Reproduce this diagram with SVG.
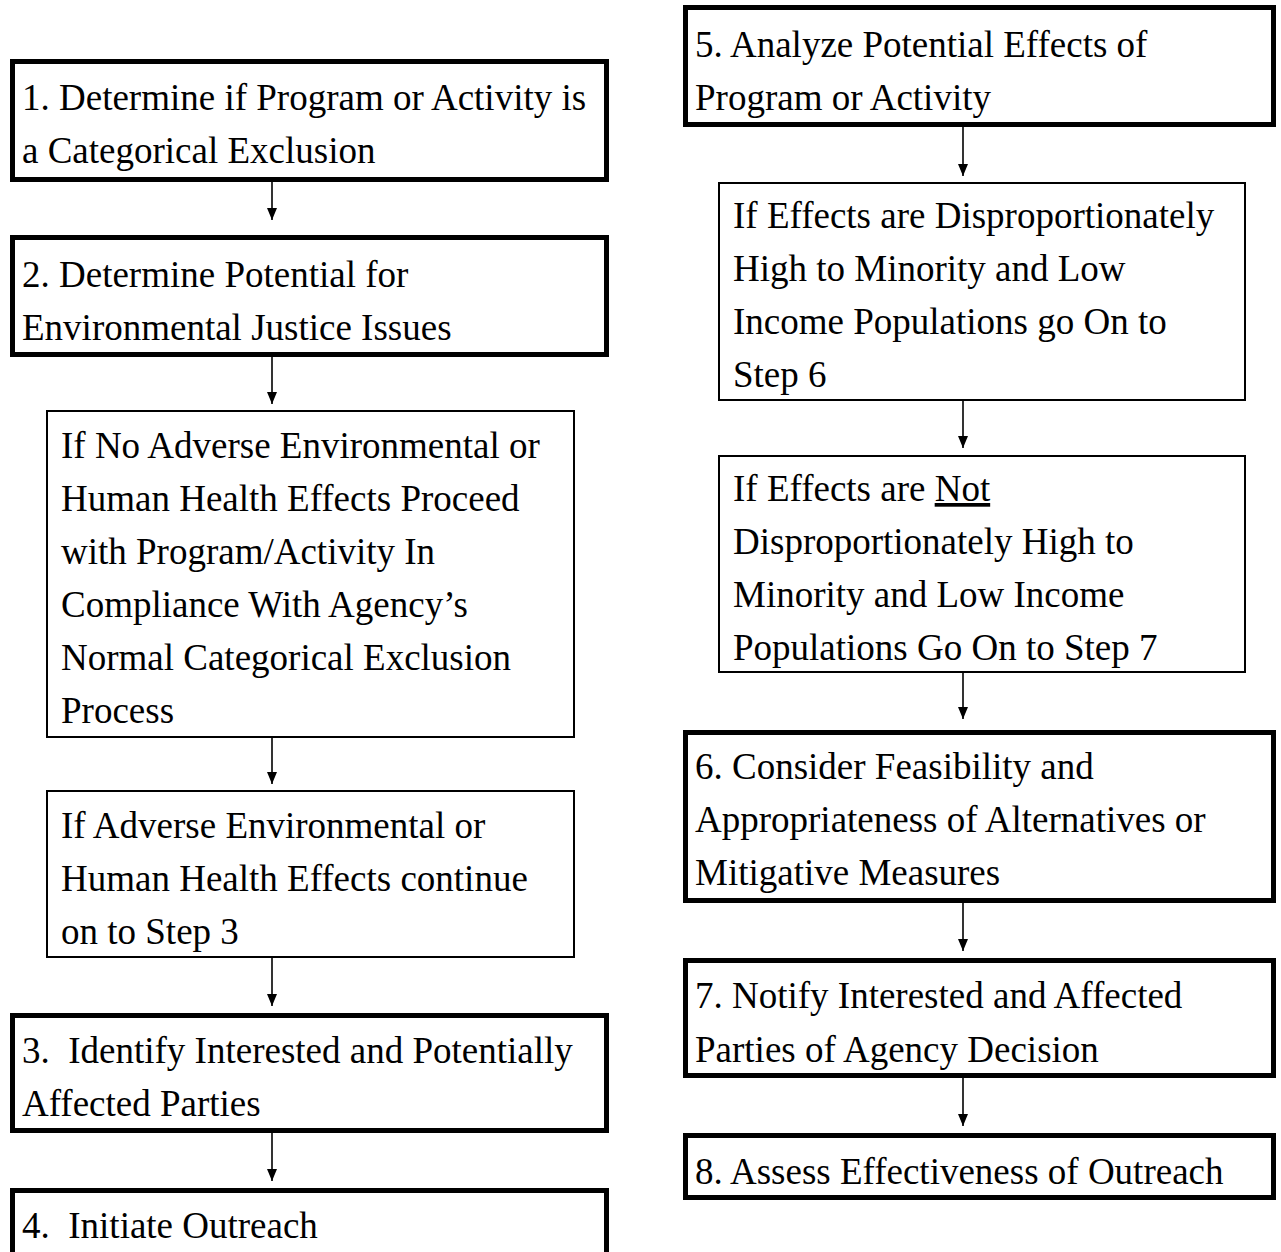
<svg xmlns="http://www.w3.org/2000/svg" width="1281" height="1252" viewBox="0 0 1281 1252">
<defs>
<marker id="ah" markerWidth="12" markerHeight="10" refX="12" refY="5" orient="auto" markerUnits="userSpaceOnUse" viewBox="0 0 12 10">
<path d="M0,0 L12,5 L0,10 Z" fill="#000"/>
</marker>
<style>
.thick{fill:#fff;stroke:#000;stroke-width:5}
.thin{fill:#fff;stroke:#000;stroke-width:2}
text{font-family:"Liberation Serif","Times New Roman",serif;font-size:37px;fill:#000}
.c{stroke:#000;stroke-width:1.6;fill:none}
</style>
</defs>
<rect width="1281" height="1252" fill="#fff"/>
<g id="connectors">
<line class="c" x1="272" y1="182" x2="272" y2="220" marker-end="url(#ah)"/>
<line class="c" x1="272" y1="357" x2="272" y2="404" marker-end="url(#ah)"/>
<line class="c" x1="272" y1="738" x2="272" y2="784" marker-end="url(#ah)"/>
<line class="c" x1="272" y1="958" x2="272" y2="1006" marker-end="url(#ah)"/>
<line class="c" x1="272" y1="1133" x2="272" y2="1181" marker-end="url(#ah)"/>
<line class="c" x1="963" y1="127" x2="963" y2="176" marker-end="url(#ah)"/>
<line class="c" x1="963" y1="401" x2="963" y2="448" marker-end="url(#ah)"/>
<line class="c" x1="963" y1="673" x2="963" y2="719" marker-end="url(#ah)"/>
<line class="c" x1="963" y1="903" x2="963" y2="951" marker-end="url(#ah)"/>
<line class="c" x1="963" y1="1078" x2="963" y2="1126" marker-end="url(#ah)"/>
</g>
<g id="n1"><rect class="thick" x="12.5" y="61.5" width="594" height="118"/>
<text x="22" y="110">1. Determine if Program or Activity is</text>
<text x="22" y="163">a Categorical Exclusion</text></g>
<g id="n2"><rect class="thick" x="12.5" y="237.5" width="594" height="117"/>
<text x="22" y="287">2. Determine Potential for</text>
<text x="22" y="340">Environmental Justice Issues</text></g>
<g id="n2a"><rect class="thin" x="47" y="411" width="527" height="326"/>
<text x="61" y="458">If No Adverse Environmental or</text>
<text x="61" y="511">Human Health Effects Proceed</text>
<text x="61" y="564">with Program/Activity In</text>
<text x="61" y="617">Compliance With Agency’s</text>
<text x="61" y="670">Normal Categorical Exclusion</text>
<text x="61" y="723">Process</text></g>
<g id="n2b"><rect class="thin" x="47" y="791" width="527" height="166"/>
<text x="61" y="838">If Adverse Environmental or</text>
<text x="61" y="891">Human Health Effects continue</text>
<text x="61" y="944">on to Step 3</text></g>
<g id="n3"><rect class="thick" x="12.5" y="1015.5" width="594" height="115"/>
<text x="22" y="1063" xml:space="preserve">3.  Identify Interested and Potentially</text>
<text x="22" y="1116">Affected Parties</text></g>
<g id="n4"><rect class="thick" x="12.5" y="1190.5" width="594" height="80"/>
<text x="22" y="1238" xml:space="preserve">4.  Initiate Outreach</text></g>
<g id="n5"><rect class="thick" x="685.5" y="7.5" width="588" height="117"/>
<text x="695" y="57">5. Analyze Potential Effects of</text>
<text x="695" y="110">Program or Activity</text></g>
<g id="n5a"><rect class="thin" x="719" y="183" width="526" height="217"/>
<text x="733" y="228">If Effects are Disproportionately</text>
<text x="733" y="281">High to Minority and Low</text>
<text x="733" y="334">Income Populations go On to</text>
<text x="733" y="387">Step 6</text></g>
<g id="n5b"><rect class="thin" x="719" y="456" width="526" height="216"/>
<text x="733" y="501">If Effects are <tspan text-decoration="underline">Not</tspan></text>
<text x="733" y="554">Disproportionately High to</text>
<text x="733" y="607">Minority and Low Income</text>
<text x="733" y="660">Populations Go On to Step 7</text></g>
<g id="n6"><rect class="thick" x="685.5" y="732.5" width="588" height="168"/>
<text x="695" y="779">6. Consider Feasibility and</text>
<text x="695" y="832">Appropriateness of Alternatives or</text>
<text x="695" y="885">Mitigative Measures</text></g>
<g id="n7"><rect class="thick" x="685.5" y="960.5" width="588" height="115"/>
<text x="695" y="1008">7. Notify Interested and Affected</text>
<text x="695" y="1062">Parties of Agency Decision</text></g>
<g id="n8"><rect class="thick" x="685.5" y="1135.5" width="588" height="62"/>
<text x="695" y="1184">8. Assess Effectiveness of Outreach</text></g>
</svg>
